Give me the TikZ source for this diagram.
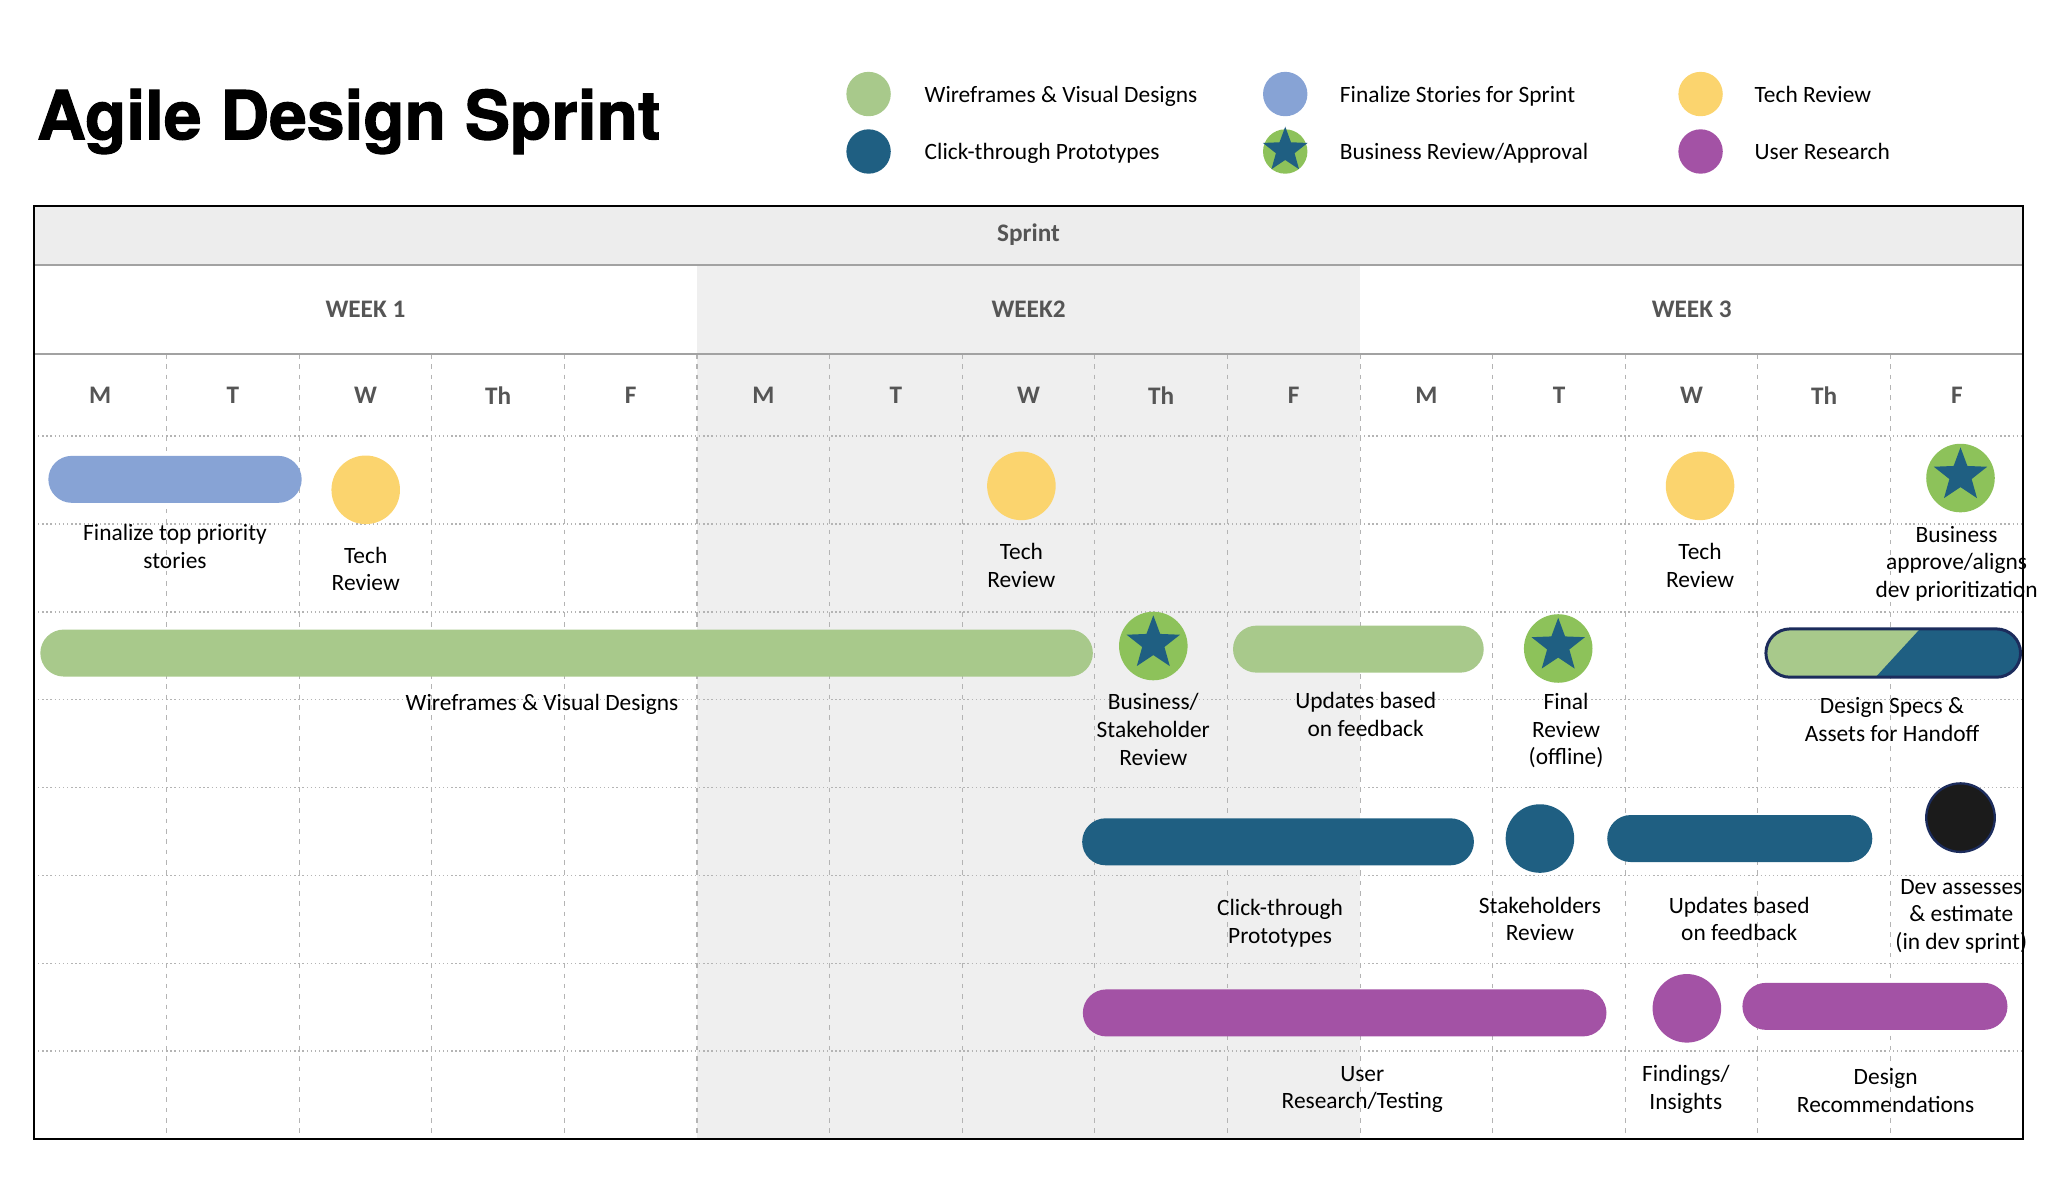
\documentclass[tikz,border=0pt]{standalone}
\usepackage{fontspec}
\setmainfont{Carlito}
\newfontfamily\titlefont[BoldFeatures={FakeBold=1.6}]{TeX Gyre Heros}
\usetikzlibrary{shapes.misc,shapes.geometric}

\definecolor{wfgreen}{HTML}{A8C98B}
\definecolor{storyblue}{HTML}{87A3D5}
\definecolor{techyellow}{HTML}{FBD46E}
\definecolor{protoblue}{HTML}{1F5F82}
\definecolor{bizgreen}{HTML}{8DC25A}
\definecolor{userpurple}{HTML}{A352A5}
\definecolor{devblack}{HTML}{1B1B1B}
\definecolor{navy}{HTML}{1C2C5C}
\definecolor{headgrey}{HTML}{EDEDED}
\definecolor{shadegrey}{HTML}{EFEFEF}
\definecolor{headtext}{HTML}{555555}
\definecolor{gridgrey}{HTML}{B4B4B4}

\tikzset{
  pill/.style={rounded rectangle, inner sep=0pt, minimum height=0.72cm},
  roundel/.style={circle, inner sep=0pt, minimum size=1.05cm},
  keyroundel/.style={circle, inner sep=0pt, minimum size=0.68cm},
  bizstar/.style={star, star points=5, star point ratio=2.4, inner sep=0pt, fill=protoblue, minimum size=0.86cm},
  lbl/.style={align=center, inner sep=0pt, font=\fontsize{10.2}{12}\selectfont},
  keytxt/.style={anchor=base west, inner sep=0pt, font=\fontsize{10.2}{12}\selectfont},
  headtxt/.style={text=headtext, font=\bfseries\fontsize{11}{13}\selectfont},
  headline/.style={draw=gridgrey!90!black, line width=1pt},
  gridh/.style={draw=gridgrey, line width=0.6pt, dash pattern=on 0.6pt off 1.2pt},
  gridv/.style={draw=gridgrey, line width=0.5pt, dash pattern=on 2pt off 2.5pt}
}

\begin{document}
\begin{tikzpicture}[x=0.02cm,y=-0.02cm]
\useasboundingbox (0,0) rectangle (1568,902);

\node[anchor=base west, inner sep=0pt, font=\titlefont\bfseries\fontsize{29.5}{30}\selectfont] (title) at (28,106.7) {Agile Design Sprint};

% legend
\node[keyroundel, fill=wfgreen] (kWire) at (665,72) {};
\node[keytxt] (kWireTxt) at (707.6,78.6) {Wireframes \& Visual Designs};
\node[keyroundel, fill=protoblue] (kProto) at (665,116) {};
\node[keytxt] (kProtoTxt) at (707.6,122) {Click-through Prototypes};
\node[keyroundel, fill=storyblue] (kStory) at (984,72) {};
\node[keytxt] (kStoryTxt) at (1025.5,78.6) {Finalize Stories for Sprint};
\node[keyroundel, fill=bizgreen] (kBiz) at (984,116) {};
\node[bizstar, minimum size=0.72cm] (kBizStar) at (984,115) {};
\node[keytxt] (kBizTxt) at (1025.5,122) {Business Review/Approval};
\node[keyroundel, fill=techyellow] (kTech) at (1302,72) {};
\node[keytxt] (kTechTxt) at (1343,78.6) {Tech Review};
\node[keyroundel, fill=userpurple] (kUser) at (1302,116) {};
\node[keytxt] (kUserTxt) at (1343,122) {User Research};

% table
\fill[headgrey] (26,158) rectangle (1549,203);
\fill[shadegrey] (533.65,203) rectangle (1041.3,872);
\draw[gridh, line width=0.8pt] (26,334) -- (1549,334);
\foreach \y in {401.25,468.5,535.75,603,670.25,737.5,804.75}
  \draw[gridh] (26,\y) -- (1549,\y);
\foreach \i in {1,...,14}
  \draw[gridv] ({26+101.53*\i},271) -- ({26+101.53*\i},872);
\draw[headline] (26,203) -- (1549,203);
\draw[headline] (26,271) -- (1549,271);

\node[headtxt] (sprint) at (787.5,180) {Sprint};
\node[headtxt] (wk1) at (279.8,237) {WEEK 1};
\node[headtxt] (wk2) at (787.5,237) {WEEK2};
\node[headtxt] (wk3) at (1295.2,237) {WEEK 3};
\foreach \d [count=\i from 0] in {M,T,W,Th,F,M,T,W,Th,F,M,T,W,Th,F}
  \node[headtxt] (day\i) at ({26+101.53*(\i+0.5)},303) {\d};

% row 1
\node[pill, minimum width=3.88cm, fill=storyblue] (fin) at (134,367) {};
\node[lbl] (finLbl) at (134,418.5) {Finalize top priority\\stories};
\node[roundel, fill=techyellow] (tech1) at (280,375) {};
\node[lbl] (tech1Lbl) at (280,435.5) {Tech\\Review};
\node[roundel, fill=techyellow] (tech2) at (782,372) {};
\node[lbl] (tech2Lbl) at (782,433) {Tech\\Review};
\node[roundel, fill=techyellow] (tech3) at (1301.6,372) {};
\node[lbl] (tech3Lbl) at (1301.6,433) {Tech\\Review};
\node[roundel, fill=bizgreen] (bizAlign) at (1501,366) {};
\node[bizstar] (bizAlignStar) at (1501,364) {};
\node[lbl] (bizAlignLbl) at (1498,431.5) {Business\\approve/aligns\\dev prioritization};

% row 2
\node[pill, minimum width=16.12cm, fill=wfgreen] (wire) at (433.8,500) {};
\node[lbl] (wireLbl) at (415,539) {Wireframes \& Visual Designs};
\node[roundel, fill=bizgreen] (bizStake) at (883,494.6) {};
\node[bizstar] (bizStakeStar) at (883,492.6) {};
\node[lbl] (bizStakeLbl) at (883,558.5) {Business/\\Stakeholder\\Review};
\node[pill, minimum width=3.84cm, fill=wfgreen] (upd1) at (1040,497) {};
\node[lbl] (upd1Lbl) at (1045.6,547) {Updates based\\on feedback};
\node[roundel, fill=bizgreen] (final) at (1193,496.5) {};
\node[bizstar] (finalStar) at (1193,494.5) {};
\node[lbl] (finalLbl) at (1199,559.5) {Final\\Review\\(offline)};
\node[pill, minimum width=3.9cm, minimum height=0.74cm, fill=wfgreen, draw=navy, line width=1.3pt,
  path picture={\fill[protoblue] ([xshift=0.41cm]path picture bounding box.north) -- (path picture bounding box.north east)
  -- (path picture bounding box.south east) -- ([xshift=-0.27cm]path picture bounding box.south) -- cycle;}] (specs) at (1449.5,500) {};
\node[lbl] (specsLbl) at (1448.6,551) {Design Specs \&\\Assets for Handoff};

% row 3
\node[pill, minimum width=6cm, fill=protoblue] (click) at (978.5,644.5) {};
\node[lbl] (clickLbl) at (980,707) {Click-through\\Prototypes};
\node[roundel, fill=protoblue] (stake) at (1179,642) {};
\node[lbl] (stakeLbl) at (1179,703.5) {Stakeholders\\Review};
\node[pill, minimum width=4.06cm, fill=protoblue] (upd2) at (1332,642) {};
\node[lbl] (upd2Lbl) at (1331.6,703.5) {Updates based\\on feedback};
\node[roundel, fill=devblack, draw=navy, line width=1pt] (dev) at (1501,626) {};
\node[lbl] (devLbl) at (1501.6,701.5) {Dev assesses\\\& estimate\\(in dev sprint)};

% row 4
\node[pill, minimum width=8.02cm, fill=userpurple] (user) at (1029.5,775.5) {};
\node[lbl] (userLbl) at (1043,834) {User\\Research/Testing};
\node[roundel, fill=userpurple] (find) at (1291.5,772) {};
\node[lbl] (findLbl) at (1290.7,834) {Findings/\\Insights};
\node[pill, minimum width=4.06cm, fill=userpurple] (rec) at (1435.5,770.5) {};
\node[lbl] (recLbl) at (1443.7,835) {Design\\Recommendations};

\draw[line width=0.9pt] (26,158) rectangle (1549,872);
\end{tikzpicture}
\end{document}
